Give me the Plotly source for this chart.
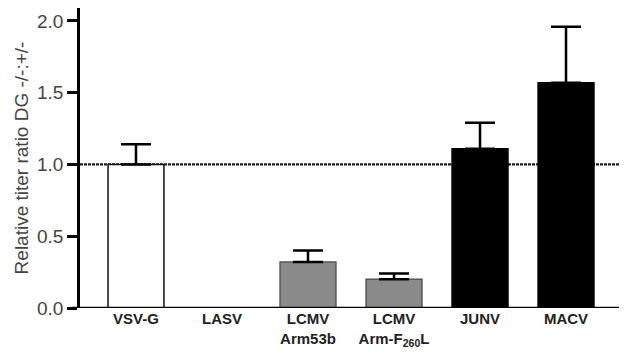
import plotly.graph_objects as go

categories = ["VSV-G", "LASV", "LCMV<br>Arm53b", "LCMV<br>Arm-F<sub>260</sub>L", "JUNV", "MACV"]
values = [1.0, 0.0, 0.32, 0.20, 1.11, 1.57]
err_upper = [0.14, 0.0, 0.08, 0.04, 0.18, 0.39]
fill_colors = ["#ffffff", "#ffffff", "#8a8a8a", "#8a8a8a", "#000000", "#000000"]
edge_colors = ["#111111", "#111111", "#555555", "#555555", "#000000", "#000000"]
y_ticks = [0.0, 0.5, 1.0, 1.5, 2.0]

xs = [i for i, v in enumerate(values) if v > 0]
fig = go.Figure()
fig.add_trace(go.Bar(
    x=xs,
    y=[values[i] for i in xs],
    width=0.65,
    marker=dict(color=[fill_colors[i] for i in xs],
                line=dict(color=[edge_colors[i] for i in xs], width=1.5)),
    error_y=dict(type="data", symmetric=False,
                 array=[err_upper[i] for i in xs],
                 arrayminus=[0 for _ in xs],
                 color="#000000", thickness=2.5, width=15),
    showlegend=False,
))

fig.add_shape(type="line", xref="paper", yref="y", x0=0, x1=1, y0=1.0, y1=1.0,
              line=dict(color="#1a1a1a", width=2.2, dash="3px,1px"), layer="below")
fig.add_shape(type="line", xref="paper", yref="y", x0=-0.015, x1=1.02, y0=0, y1=0,
              line=dict(color="#000000", width=2.5), layer="above")

fig.update_layout(
    width=627, height=355,
    margin=dict(l=72, r=8, t=0, b=55, autoexpand=False),
    plot_bgcolor="white", paper_bgcolor="white",
    font=dict(family="Liberation Sans, Arial, sans-serif", color="#333333"),
    bargap=0.35,
)
fig.update_xaxes(
    range=[-0.651, 5.709],
    tickmode="array", tickvals=list(range(len(categories))),
    ticktext=["<b>" + c.replace("<br>", "</b><br><b>") + "</b>" for c in categories],
    tickfont=dict(size=15, color="#222222"),
    showline=False, ticks="", showgrid=False, zeroline=False,
)
fig.update_yaxes(
    range=[0, 2.09],
    tickmode="array", tickvals=y_ticks, ticktext=[f"{t:.1f}" for t in y_ticks],
    tickfont=dict(size=19, color="#444444"),
    ticks="outside", ticklen=10, tickwidth=2.5, tickcolor="#000000",
    showline=True, linecolor="#000000", linewidth=2.5,
    showgrid=False, zeroline=False,
    title=dict(text="Relative titer ratio DG -/-:+/-", font=dict(size=19, color="#444444"), standoff=4),
)

fig.write_html("out.html")
